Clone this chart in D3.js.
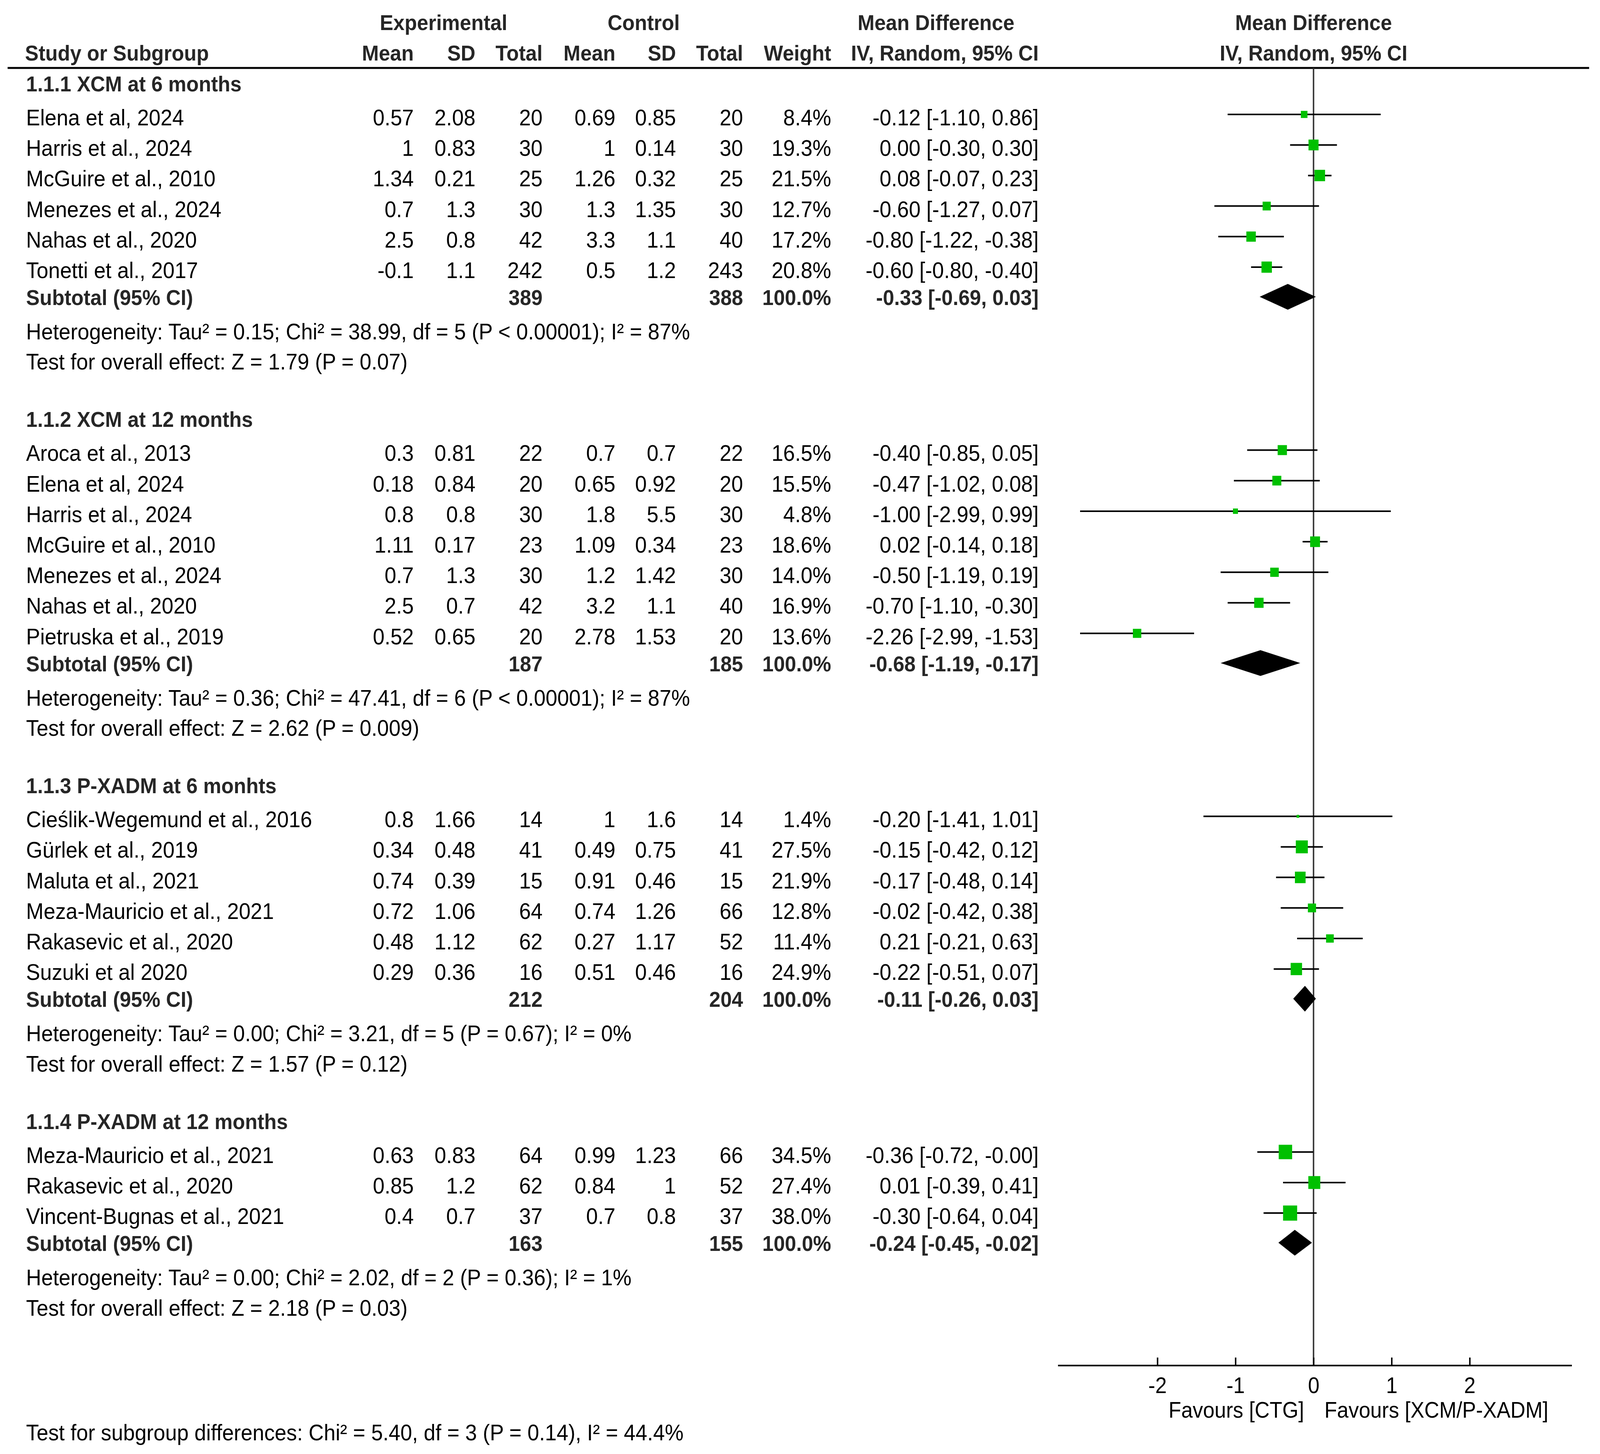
<!DOCTYPE html>
<html>
<head>
<meta charset="utf-8">
<script src="https://cdn.jsdelivr.net/npm/d3@7"></script>
<style>
  html, body { margin: 0; padding: 0; background: #fff; overflow: hidden; }
  #forest svg { display: block; width: 100vw; height: 100vh; }
  text { font-family: "Liberation Sans", Arial, sans-serif; }
</style>
</head>
<body>
<div id="forest"></div>
<script>
// ---- data ----
var subgroupTitles = ["1.1.1 XCM at 6 months", "1.1.2 XCM at 12 months",
  "1.1.3 P-XADM at 6 monhts", "1.1.4 P-XADM at 12 months"];
var subgroupCounts = [6, 7, 6, 3];

var studyNames = [
  "Elena et al, 2024", "Harris et al., 2024", "McGuire et al., 2010", "Menezes et al., 2024", "Nahas et al., 2020", "Tonetti et al., 2017",
  "Aroca et al., 2013", "Elena et al, 2024", "Harris et al., 2024", "McGuire et al., 2010", "Menezes et al., 2024", "Nahas et al., 2020", "Pietruska et al., 2019",
  "Cieślik-Wegemund et al., 2016", "Gürlek et al., 2019", "Maluta et al., 2021", "Meza-Mauricio et al., 2021", "Rakasevic et al., 2020", "Suzuki et al 2020",
  "Meza-Mauricio et al., 2021", "Rakasevic et al., 2020", "Vincent-Bugnas et al., 2021"
];
var expMean  = [0.57, 1, 1.34, 0.7, 2.5, -0.1,  0.3, 0.18, 0.8, 1.11, 0.7, 2.5, 0.52,  0.8, 0.34, 0.74, 0.72, 0.48, 0.29,  0.63, 0.85, 0.4];
var expSD    = [2.08, 0.83, 0.21, 1.3, 0.8, 1.1,  0.81, 0.84, 0.8, 0.17, 1.3, 0.7, 0.65,  1.66, 0.48, 0.39, 1.06, 1.12, 0.36,  0.83, 1.2, 0.7];
var expTotal = [20, 30, 25, 30, 42, 242,  22, 20, 30, 23, 30, 42, 20,  14, 41, 15, 64, 62, 16,  64, 62, 37];
var ctlMean  = [0.69, 1, 1.26, 1.3, 3.3, 0.5,  0.7, 0.65, 1.8, 1.09, 1.2, 3.2, 2.78,  1, 0.49, 0.91, 0.74, 0.27, 0.51,  0.99, 0.84, 0.7];
var ctlSD    = [0.85, 0.14, 0.32, 1.35, 1.1, 1.2,  0.7, 0.92, 5.5, 0.34, 1.42, 1.1, 1.53,  1.6, 0.75, 0.46, 1.26, 1.17, 0.46,  1.23, 1, 0.8];
var ctlTotal = [20, 30, 25, 30, 40, 243,  22, 20, 30, 23, 30, 40, 20,  14, 41, 15, 66, 52, 16,  66, 52, 37];
var weights  = [8.4, 19.3, 21.5, 12.7, 17.2, 20.8,  16.5, 15.5, 4.8, 18.6, 14.0, 16.9, 13.6,  1.4, 27.5, 21.9, 12.8, 11.4, 24.9,  34.5, 27.4, 38.0];
var mdValues = [-0.12, 0.00, 0.08, -0.60, -0.80, -0.60,  -0.40, -0.47, -1.00, 0.02, -0.50, -0.70, -2.26,  -0.20, -0.15, -0.17, -0.02, 0.21, -0.22,  -0.36, 0.01, -0.30];
var ciLow    = [-1.10, -0.30, -0.07, -1.27, -1.22, -0.80,  -0.85, -1.02, -2.99, -0.14, -1.19, -1.10, -2.99,  -1.41, -0.42, -0.48, -0.42, -0.21, -0.51,  -0.72, -0.39, -0.64];
var ciHigh   = [0.86, 0.30, 0.23, 0.07, -0.38, -0.40,  0.05, 0.08, 0.99, 0.18, 0.19, -0.30, -1.53,  1.01, 0.12, 0.14, 0.38, 0.63, 0.07,  -0.004, 0.41, 0.04];

var subExpTotal = [389, 187, 212, 163];
var subCtlTotal = [388, 185, 204, 155];
var subMd   = [-0.33, -0.68, -0.11, -0.24];
var subLow  = [-0.69, -1.19, -0.26, -0.45];
var subHigh = [0.03, -0.17, 0.03, -0.02];
var hetTexts = [
  "Heterogeneity: Tau² = 0.15; Chi² = 38.99, df = 5 (P < 0.00001); I² = 87%",
  "Heterogeneity: Tau² = 0.36; Chi² = 47.41, df = 6 (P < 0.00001); I² = 87%",
  "Heterogeneity: Tau² = 0.00; Chi² = 3.21, df = 5 (P = 0.67); I² = 0%",
  "Heterogeneity: Tau² = 0.00; Chi² = 2.02, df = 2 (P = 0.36); I² = 1%"
];
var overallTexts = [
  "Test for overall effect: Z = 1.79 (P = 0.07)",
  "Test for overall effect: Z = 2.62 (P = 0.009)",
  "Test for overall effect: Z = 1.57 (P = 0.12)",
  "Test for overall effect: Z = 2.18 (P = 0.03)"
];
var subgroupDiffText = "Test for subgroup differences: Chi² = 5.40, df = 3 (P = 0.14), I² = 44.4%";
var axisTicks = [-2, -1, 0, 1, 2];
var favoursLeft = "Favours [CTG]";
var favoursRight = "Favours [XCM/P-XADM]";

// ---- layout ----
var width = 4412, height = 3723;
var regSize = 58, boldSize = 56;
var boldColor = "#262626";
var nameX = 72;
var col = { eMean: 1141, eSD: 1311, eTot: 1496, cMean: 1697, cSD: 1864, cTot: 2049, wt: 2292, ci: 2864 };
var axisY = 3496;

// the drawing is laid out in 4412 x 3723 units and scaled to fill the window
var svg = d3.select("#forest")
  .append("svg")
    .attr("viewBox", "0 0 " + width + " " + height)
    .attr("preserveAspectRatio", "none");

svg.append("rect").attr("width", width).attr("height", height).attr("fill", "#fff");

var x = d3.scaleLinear()
  .domain([-3.275, 3.307])
  .range([2917, 4334]);

var boxSide = d3.scaleSqrt().domain([0, 100]).range([0, 63]);

function fmt2(v) { return v.toFixed(2); }
function ciText(m, l, h) { return fmt2(m) + " [" + fmt2(l) + ", " + fmt2(h) + "]"; }

function txt(xp, yp, s, opts) {
  opts = opts || {};
  return svg.append("text")
    .attr("x", xp)
    .attr("y", yp)
    .attr("text-anchor", opts.anchor || "start")
    .attr("font-size", opts.bold ? boldSize : regSize)
    .attr("font-weight", opts.bold ? "bold" : "normal")
    .attr("fill", opts.bold ? boldColor : "#000")
    .text(s);
}

// header
txt(1223, 77, "Experimental", { bold: true, anchor: "middle" });
txt(1775, 77, "Control", { bold: true, anchor: "middle" });
txt(2581, 77, "Mean Difference", { bold: true, anchor: "middle" });
txt(x(0), 77, "Mean Difference", { bold: true, anchor: "middle" });
txt(69, 155, "Study or Subgroup", { bold: true });
[["eMean", "Mean"], ["eSD", "SD"], ["eTot", "Total"], ["cMean", "Mean"], ["cSD", "SD"],
 ["cTot", "Total"], ["wt", "Weight"], ["ci", "IV, Random, 95% CI"]].forEach(function (h) {
  txt(col[h[0]], 155, h[1], { bold: true, anchor: "end" });
});
txt(x(0), 155, "IV, Random, 95% CI", { bold: true, anchor: "middle" });

svg.append("line")
  .attr("x1", 21).attr("x2", 4382)
  .attr("y1", 174).attr("y2", 174)
  .attr("stroke", "#000").attr("stroke-width", 5);

// zero line
svg.append("line")
  .attr("x1", x(0)).attr("x2", x(0))
  .attr("y1", 174).attr("y2", axisY)
  .attr("stroke", "#333").attr("stroke-width", 4);

// rows
var y = 234, idx = 0;
var rowStep = 78.2;
subgroupTitles.forEach(function (title, g) {
  txt(nameX, y, title, { bold: true });
  var yy = y + 87;
  for (var k = 0; k < subgroupCounts[g]; k++, idx++) {
    txt(nameX, yy, studyNames[idx]);
    txt(col.eMean, yy, String(expMean[idx]), { anchor: "end" });
    txt(col.eSD, yy, String(expSD[idx]), { anchor: "end" });
    txt(col.eTot, yy, String(expTotal[idx]), { anchor: "end" });
    txt(col.cMean, yy, String(ctlMean[idx]), { anchor: "end" });
    txt(col.cSD, yy, String(ctlSD[idx]), { anchor: "end" });
    txt(col.cTot, yy, String(ctlTotal[idx]), { anchor: "end" });
    txt(col.wt, yy, weights[idx].toFixed(1) + "%", { anchor: "end" });
    txt(col.ci, yy, ciText(mdValues[idx], ciLow[idx], ciHigh[idx]), { anchor: "end" });

    var cy = yy - 28;
    svg.append("line")
      .attr("x1", x(ciLow[idx])).attr("x2", x(ciHigh[idx]))
      .attr("y1", cy).attr("y2", cy)
      .attr("stroke", "#000").attr("stroke-width", 4);
    var s = boxSide(weights[idx]);
    svg.append("rect")
      .attr("x", x(mdValues[idx]) - s / 2)
      .attr("y", cy - s / 2)
      .attr("width", s).attr("height", s)
      .attr("fill", "#00c000");
    yy += rowStep;
  }
  yy = yy - rowStep + 69;
  txt(nameX, yy, "Subtotal (95% CI)", { bold: true });
  txt(col.eTot, yy, String(subExpTotal[g]), { bold: true, anchor: "end" });
  txt(col.cTot, yy, String(subCtlTotal[g]), { bold: true, anchor: "end" });
  txt(col.wt, yy, "100.0%", { bold: true, anchor: "end" });
  txt(col.ci, yy, ciText(subMd[g], subLow[g], subHigh[g]), { bold: true, anchor: "end" });

  var dy = yy - 21;
  svg.append("polygon")
    .attr("points", [
      [x(subLow[g]), dy], [x(subMd[g]), dy - 33],
      [x(subHigh[g]), dy], [x(subMd[g]), dy + 33]
    ].map(function (p) { return p.join(","); }).join(" "))
    .attr("fill", "#000");

  yy += 88;
  txt(nameX, yy, hetTexts[g]);
  yy += 77.5;
  txt(nameX, yy, overallTexts[g]);
  y = yy + 147;
});

// axis
var axisG = svg.append("g")
  .attr("transform", "translate(0," + axisY + ")")
  .call(d3.axisBottom(x)
    .tickValues(axisTicks)
    .tickFormat(function (d) { return String(d); })
    .tickSizeInner(-20)
    .tickSizeOuter(0)
    .tickPadding(31));
axisG.attr("font-size", 57).attr("font-family", "Liberation Sans, Arial, sans-serif");
axisG.select(".domain").attr("stroke", "#000").attr("stroke-width", 4);
axisG.selectAll(".tick line").attr("stroke", "#000").attr("stroke-width", 4);
axisG.selectAll(".tick text").attr("fill", "#000");

txt(x(0) - 26, 3630, favoursLeft, { anchor: "end" }).attr("font-size", 57);
txt(x(0) + 30, 3630, favoursRight).attr("font-size", 57);

txt(nameX, 3688, subgroupDiffText);
</script>
</body>
</html>
